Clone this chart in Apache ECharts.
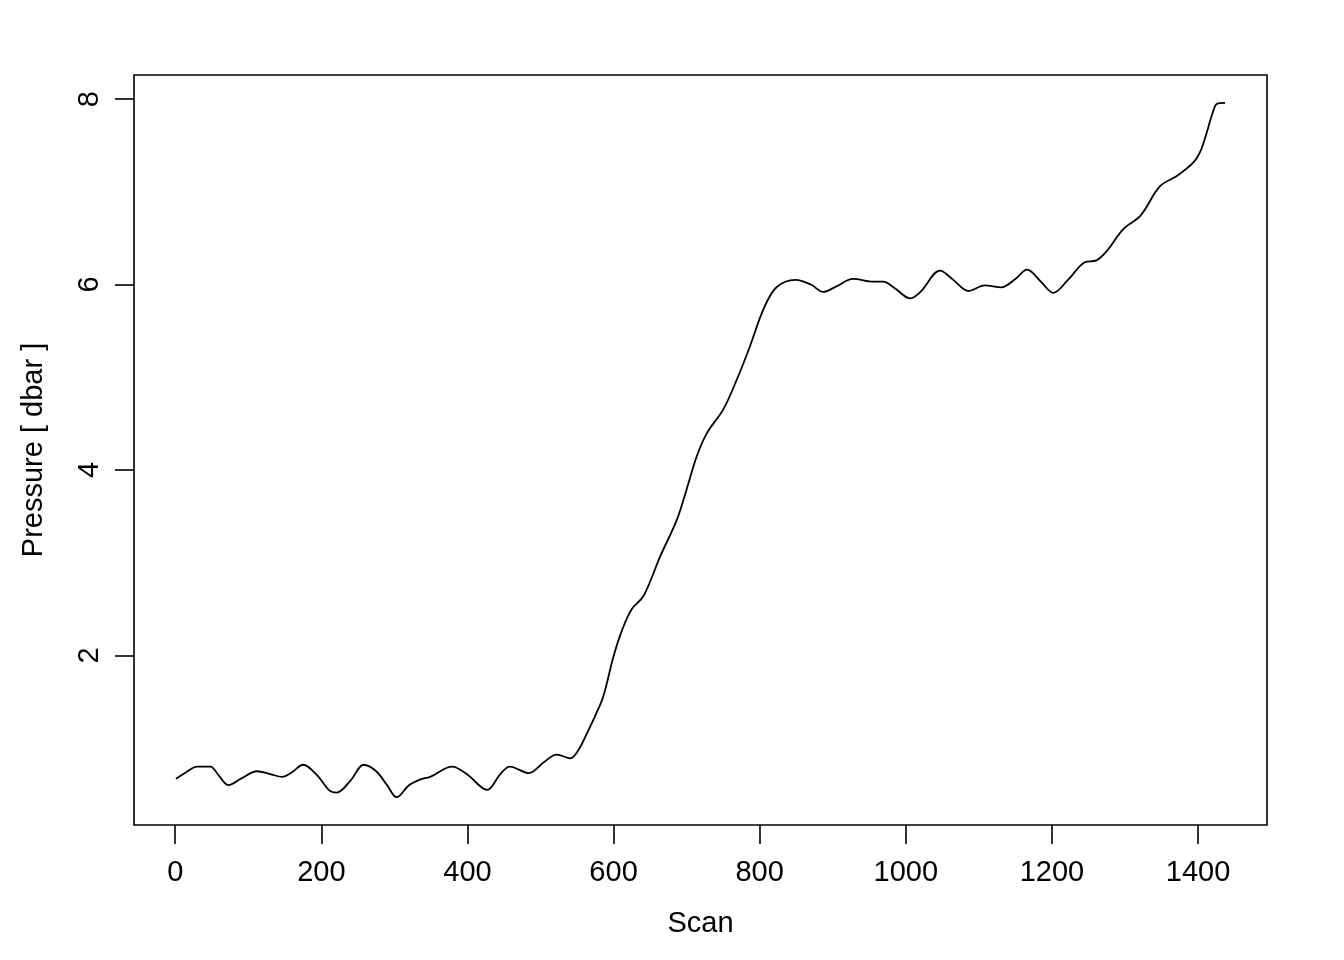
<!DOCTYPE html>
<html>
<head>
<meta charset="utf-8">
<script src="https://cdn.jsdelivr.net/npm/echarts@6/dist/echarts.min.js"></script>
<style>
html,body{margin:0;padding:0;background:#fff;}
#chart{width:1344px;height:960px;}
</style>
</head>
<body>
<div id="chart"></div>
<script>
// Data
const scan = [1,15,30,48,60,73,90,112,130,146,160,175,195,210,221,240,258,275,290,303,320,335,349,379,399,427,445,458,484,505,522,541,552,563,575,586,600,612,625,641,664,687,700,714,728,750,769,787,805,823,849,870,887,905,928,956,969,985,1006,1020,1047,1065,1086,1108,1131,1150,1166,1185,1202,1222,1245,1261,1275,1298,1321,1348,1371,1394,1404,1412,1420,1426,1437];
const pressure = [0.67,0.74,0.80,0.80,0.70,0.60,0.67,0.75,0.72,0.69,0.74,0.82,0.70,0.55,0.52,0.65,0.82,0.75,0.60,0.47,0.60,0.66,0.69,0.80,0.72,0.55,0.72,0.80,0.73,0.85,0.93,0.89,0.98,1.15,1.35,1.56,1.99,2.28,2.50,2.64,3.07,3.47,3.79,4.15,4.40,4.65,4.98,5.34,5.73,5.97,6.05,6.00,5.92,5.98,6.06,6.03,6.03,5.96,5.85,5.92,6.15,6.05,5.93,5.99,5.97,6.06,6.16,6.03,5.91,6.05,6.24,6.26,6.36,6.60,6.74,7.06,7.17,7.32,7.45,7.64,7.85,7.95,7.96];
const xTicks = [0,200,400,600,800,1000,1200,1400];
const yTicks = [2,4,6,8];
const xTitle = 'Scan';
const yTitle = 'Pressure [ dbar ]';

// R-style 4% axis extension
const xMinD = Math.min(...scan), xMaxD = Math.max(...scan);
const yMinD = Math.min(...pressure), yMaxD = Math.max(...pressure);
const xPad = 0.04 * (xMaxD - xMinD), yPad = 0.04 * (yMaxD - yMinD);

const font = '"Liberation Sans", Arial, Helvetica, sans-serif';
const chart = echarts.init(document.getElementById('chart'), null, {renderer: 'canvas'});
chart.setOption({
  animation: false,
  backgroundColor: '#fff',
  grid: {left: 134, top: 75, right: 77, bottom: 135, show: true, borderColor: '#000', borderWidth: 1.6, containLabel: false},
  xAxis: {
    type: 'value', min: xMinD - xPad, max: xMaxD + xPad,
    name: xTitle, nameLocation: 'middle', nameGap: 84,
    nameTextStyle: {fontSize: 29, color: '#000', fontFamily: font},
    axisLine: {show: false, onZero: false},
    axisTick: {show: true, customValues: xTicks, length: 19, lineStyle: {color: '#000', width: 1.6}},
    axisLabel: {customValues: xTicks, fontSize: 29, color: '#000', fontFamily: font, margin: 33, formatter: v => String(v)},
    splitLine: {show: false}
  },
  yAxis: {
    type: 'value', min: yMinD - yPad, max: yMaxD + yPad,
    name: yTitle, nameLocation: 'middle', nameGap: 86, nameRotate: 90,
    nameTextStyle: {fontSize: 29, color: '#000', fontFamily: font},
    axisLine: {show: false, onZero: false},
    axisTick: {show: true, customValues: yTicks, length: 19, lineStyle: {color: '#000', width: 1.6}},
    axisLabel: {customValues: yTicks, fontSize: 29, color: '#000', fontFamily: font, margin: 30, rotate: 90, formatter: v => String(v)},
    splitLine: {show: false}
  },
  series: [{
    type: 'line',
    data: scan.map((s, i) => [s, pressure[i]]),
    showSymbol: false,
    smooth: 0.35,
    lineStyle: {color: '#000', width: 1.8}
  }]
});
</script>
</body>
</html>
